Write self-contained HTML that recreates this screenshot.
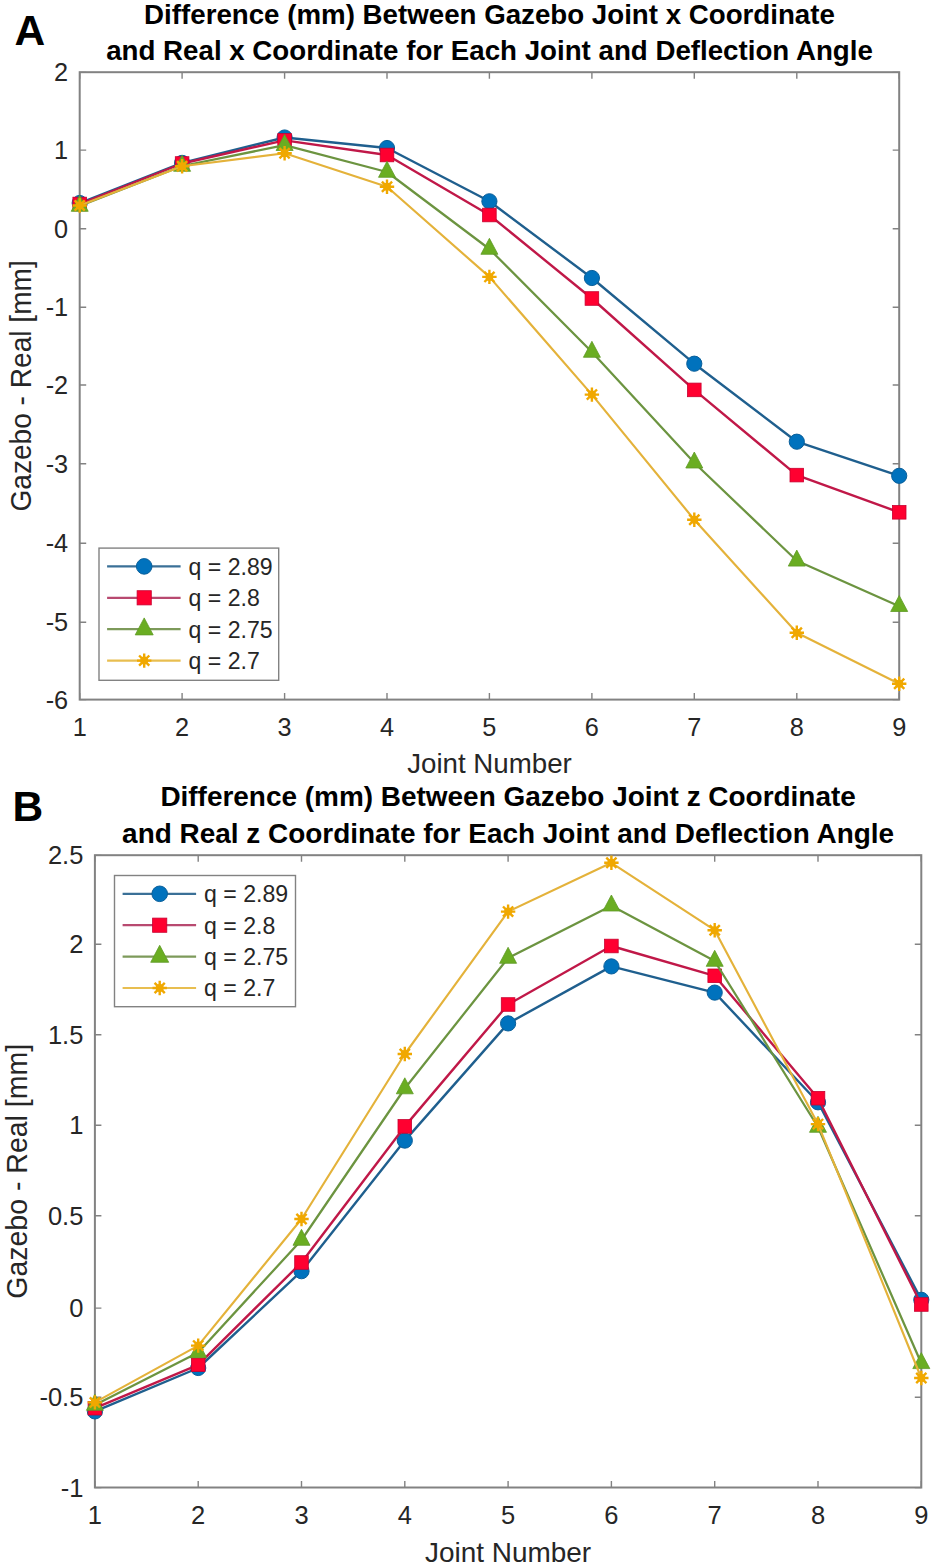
<!DOCTYPE html>
<html><head><meta charset="utf-8"><style>html,body{margin:0;padding:0;background:#fff;width:938px;height:1567px;overflow:hidden}</style></head>
<body>
<svg width="938" height="1567" viewBox="0 0 938 1567" style="display:block;font-family:'Liberation Sans', sans-serif">
<rect width="938" height="1567" fill="#fff"/>
<rect x="79.7" y="72.2" width="819.5" height="627.4" fill="#fff" stroke="#828282" stroke-width="2"/>
<path d="M79.7,699.6v-6.5M79.7,72.2v6.5" stroke="#828282" stroke-width="1.4"/>
<text x="79.7" y="735.8" font-size="25.3" text-anchor="middle" font-weight="normal" fill="#262626" >1</text>
<path d="M182.1,699.6v-6.5M182.1,72.2v6.5" stroke="#828282" stroke-width="1.4"/>
<text x="182.1" y="735.8" font-size="25.3" text-anchor="middle" font-weight="normal" fill="#262626" >2</text>
<path d="M284.6,699.6v-6.5M284.6,72.2v6.5" stroke="#828282" stroke-width="1.4"/>
<text x="284.6" y="735.8" font-size="25.3" text-anchor="middle" font-weight="normal" fill="#262626" >3</text>
<path d="M387.0,699.6v-6.5M387.0,72.2v6.5" stroke="#828282" stroke-width="1.4"/>
<text x="387.0" y="735.8" font-size="25.3" text-anchor="middle" font-weight="normal" fill="#262626" >4</text>
<path d="M489.4,699.6v-6.5M489.4,72.2v6.5" stroke="#828282" stroke-width="1.4"/>
<text x="489.4" y="735.8" font-size="25.3" text-anchor="middle" font-weight="normal" fill="#262626" >5</text>
<path d="M591.9,699.6v-6.5M591.9,72.2v6.5" stroke="#828282" stroke-width="1.4"/>
<text x="591.9" y="735.8" font-size="25.3" text-anchor="middle" font-weight="normal" fill="#262626" >6</text>
<path d="M694.3,699.6v-6.5M694.3,72.2v6.5" stroke="#828282" stroke-width="1.4"/>
<text x="694.3" y="735.8" font-size="25.3" text-anchor="middle" font-weight="normal" fill="#262626" >7</text>
<path d="M796.8,699.6v-6.5M796.8,72.2v6.5" stroke="#828282" stroke-width="1.4"/>
<text x="796.8" y="735.8" font-size="25.3" text-anchor="middle" font-weight="normal" fill="#262626" >8</text>
<path d="M899.2,699.6v-6.5M899.2,72.2v6.5" stroke="#828282" stroke-width="1.4"/>
<text x="899.2" y="735.8" font-size="25.3" text-anchor="middle" font-weight="normal" fill="#262626" >9</text>
<path d="M79.7,72.4h6.5M899.2,72.4h-6.5" stroke="#828282" stroke-width="1.4"/>
<text x="68.2" y="81.3" font-size="25.3" text-anchor="end" font-weight="normal" fill="#262626" >2</text>
<path d="M79.7,150.1h6.5M899.2,150.1h-6.5" stroke="#828282" stroke-width="1.4"/>
<text x="68.2" y="159.0" font-size="25.3" text-anchor="end" font-weight="normal" fill="#262626" >1</text>
<path d="M79.7,228.7h6.5M899.2,228.7h-6.5" stroke="#828282" stroke-width="1.4"/>
<text x="68.2" y="237.6" font-size="25.3" text-anchor="end" font-weight="normal" fill="#262626" >0</text>
<path d="M79.7,307.3h6.5M899.2,307.3h-6.5" stroke="#828282" stroke-width="1.4"/>
<text x="68.2" y="316.2" font-size="25.3" text-anchor="end" font-weight="normal" fill="#262626" >-1</text>
<path d="M79.7,385.0h6.5M899.2,385.0h-6.5" stroke="#828282" stroke-width="1.4"/>
<text x="68.2" y="393.9" font-size="25.3" text-anchor="end" font-weight="normal" fill="#262626" >-2</text>
<path d="M79.7,463.8h6.5M899.2,463.8h-6.5" stroke="#828282" stroke-width="1.4"/>
<text x="68.2" y="472.7" font-size="25.3" text-anchor="end" font-weight="normal" fill="#262626" >-3</text>
<path d="M79.7,543.3h6.5M899.2,543.3h-6.5" stroke="#828282" stroke-width="1.4"/>
<text x="68.2" y="552.2" font-size="25.3" text-anchor="end" font-weight="normal" fill="#262626" >-4</text>
<path d="M79.7,622.2h6.5M899.2,622.2h-6.5" stroke="#828282" stroke-width="1.4"/>
<text x="68.2" y="631.1" font-size="25.3" text-anchor="end" font-weight="normal" fill="#262626" >-5</text>
<path d="M79.7,699.6h6.5M899.2,699.6h-6.5" stroke="#828282" stroke-width="1.4"/>
<text x="68.2" y="708.5" font-size="25.3" text-anchor="end" font-weight="normal" fill="#262626" >-6</text>
<polyline points="79.7,203.0 182.1,162.9 284.6,137.5 387.0,148.0 489.4,201.3 591.9,278.0 694.3,363.7 796.8,441.7 899.2,475.8" fill="none" stroke="#1f5f8e" stroke-width="2.4" stroke-linejoin="round"/>
<circle cx="79.7" cy="203.0" r="7.6" fill="#0072BD" stroke="#0a5f9a" stroke-width="1"/>
<circle cx="182.1" cy="162.9" r="7.6" fill="#0072BD" stroke="#0a5f9a" stroke-width="1"/>
<circle cx="284.6" cy="137.5" r="7.6" fill="#0072BD" stroke="#0a5f9a" stroke-width="1"/>
<circle cx="387.0" cy="148.0" r="7.6" fill="#0072BD" stroke="#0a5f9a" stroke-width="1"/>
<circle cx="489.4" cy="201.3" r="7.6" fill="#0072BD" stroke="#0a5f9a" stroke-width="1"/>
<circle cx="591.9" cy="278.0" r="7.6" fill="#0072BD" stroke="#0a5f9a" stroke-width="1"/>
<circle cx="694.3" cy="363.7" r="7.6" fill="#0072BD" stroke="#0a5f9a" stroke-width="1"/>
<circle cx="796.8" cy="441.7" r="7.6" fill="#0072BD" stroke="#0a5f9a" stroke-width="1"/>
<circle cx="899.2" cy="475.8" r="7.6" fill="#0072BD" stroke="#0a5f9a" stroke-width="1"/>
<polyline points="79.7,204.0 182.1,163.5 284.6,140.4 387.0,155.0 489.4,215.0 591.9,298.5 694.3,389.9 796.8,475.1 899.2,512.3" fill="none" stroke="#c01848" stroke-width="2.4" stroke-linejoin="round"/>
<rect x="72.9" y="197.2" width="13.6" height="13.6" fill="#ff0030" stroke="#c80030" stroke-width="0.8"/>
<rect x="175.3" y="156.7" width="13.6" height="13.6" fill="#ff0030" stroke="#c80030" stroke-width="0.8"/>
<rect x="277.8" y="133.6" width="13.6" height="13.6" fill="#ff0030" stroke="#c80030" stroke-width="0.8"/>
<rect x="380.2" y="148.2" width="13.6" height="13.6" fill="#ff0030" stroke="#c80030" stroke-width="0.8"/>
<rect x="482.6" y="208.2" width="13.6" height="13.6" fill="#ff0030" stroke="#c80030" stroke-width="0.8"/>
<rect x="585.1" y="291.7" width="13.6" height="13.6" fill="#ff0030" stroke="#c80030" stroke-width="0.8"/>
<rect x="687.5" y="383.1" width="13.6" height="13.6" fill="#ff0030" stroke="#c80030" stroke-width="0.8"/>
<rect x="790.0" y="468.3" width="13.6" height="13.6" fill="#ff0030" stroke="#c80030" stroke-width="0.8"/>
<rect x="892.4" y="505.5" width="13.6" height="13.6" fill="#ff0030" stroke="#c80030" stroke-width="0.8"/>
<polyline points="79.7,206.0 182.1,166.0 284.6,145.2 387.0,172.0 489.4,249.0 591.9,352.0 694.3,462.7 796.8,560.8 899.2,606.2" fill="none" stroke="#6c9440" stroke-width="2.25" stroke-linejoin="round"/>
<polygon points="79.7,195.3 88.2,211.3 71.2,211.3" fill="#6aad22" stroke="#5f9a26" stroke-width="0.8"/>
<polygon points="182.1,155.3 190.6,171.3 173.6,171.3" fill="#6aad22" stroke="#5f9a26" stroke-width="0.8"/>
<polygon points="284.6,134.5 293.1,150.5 276.1,150.5" fill="#6aad22" stroke="#5f9a26" stroke-width="0.8"/>
<polygon points="387.0,161.3 395.5,177.3 378.5,177.3" fill="#6aad22" stroke="#5f9a26" stroke-width="0.8"/>
<polygon points="489.4,238.3 497.9,254.3 480.9,254.3" fill="#6aad22" stroke="#5f9a26" stroke-width="0.8"/>
<polygon points="591.9,341.3 600.4,357.3 583.4,357.3" fill="#6aad22" stroke="#5f9a26" stroke-width="0.8"/>
<polygon points="694.3,452.0 702.8,468.0 685.8,468.0" fill="#6aad22" stroke="#5f9a26" stroke-width="0.8"/>
<polygon points="796.8,550.1 805.3,566.1 788.3,566.1" fill="#6aad22" stroke="#5f9a26" stroke-width="0.8"/>
<polygon points="899.2,595.5 907.7,611.5 890.7,611.5" fill="#6aad22" stroke="#5f9a26" stroke-width="0.8"/>
<polyline points="79.7,205.5 182.1,166.3 284.6,153.2 387.0,186.8 489.4,276.9 591.9,394.6 694.3,519.7 796.8,632.8 899.2,683.7" fill="none" stroke="#e4b23a" stroke-width="2.15" stroke-linejoin="round"/>
<path d="M72.5,205.5L86.9,205.5M74.6,200.4L84.8,210.6M79.7,198.3L79.7,212.7M84.8,200.4L74.6,210.6" stroke="#f0a800" stroke-width="2.4" fill="none"/>
<circle cx="79.7" cy="205.5" r="4" fill="#f0a800"/>
<path d="M174.9,166.3L189.3,166.3M177.0,161.2L187.2,171.4M182.1,159.1L182.1,173.5M187.2,161.2L177.0,171.4" stroke="#f0a800" stroke-width="2.4" fill="none"/>
<circle cx="182.1" cy="166.3" r="4" fill="#f0a800"/>
<path d="M277.4,153.2L291.8,153.2M279.5,148.1L289.7,158.3M284.6,146.0L284.6,160.4M289.7,148.1L279.5,158.3" stroke="#f0a800" stroke-width="2.4" fill="none"/>
<circle cx="284.6" cy="153.2" r="4" fill="#f0a800"/>
<path d="M379.8,186.8L394.2,186.8M381.9,181.7L392.1,191.9M387.0,179.6L387.0,194.0M392.1,181.7L381.9,191.9" stroke="#f0a800" stroke-width="2.4" fill="none"/>
<circle cx="387.0" cy="186.8" r="4" fill="#f0a800"/>
<path d="M482.2,276.9L496.6,276.9M484.4,271.8L494.5,282.0M489.4,269.7L489.4,284.1M494.5,271.8L484.4,282.0" stroke="#f0a800" stroke-width="2.4" fill="none"/>
<circle cx="489.4" cy="276.9" r="4" fill="#f0a800"/>
<path d="M584.7,394.6L599.1,394.6M586.8,389.5L597.0,399.7M591.9,387.4L591.9,401.8M597.0,389.5L586.8,399.7" stroke="#f0a800" stroke-width="2.4" fill="none"/>
<circle cx="591.9" cy="394.6" r="4" fill="#f0a800"/>
<path d="M687.1,519.7L701.5,519.7M689.2,514.6L699.4,524.8M694.3,512.5L694.3,526.9M699.4,514.6L689.2,524.8" stroke="#f0a800" stroke-width="2.4" fill="none"/>
<circle cx="694.3" cy="519.7" r="4" fill="#f0a800"/>
<path d="M789.6,632.8L804.0,632.8M791.7,627.7L801.9,637.9M796.8,625.6L796.8,640.0M801.9,627.7L791.7,637.9" stroke="#f0a800" stroke-width="2.4" fill="none"/>
<circle cx="796.8" cy="632.8" r="4" fill="#f0a800"/>
<path d="M892.0,683.7L906.4,683.7M894.1,678.6L904.3,688.8M899.2,676.5L899.2,690.9M904.3,678.6L894.1,688.8" stroke="#f0a800" stroke-width="2.4" fill="none"/>
<circle cx="899.2" cy="683.7" r="4" fill="#f0a800"/>
<text x="489.5" y="23.6" font-size="27.7" text-anchor="middle" font-weight="bold" fill="#000" >Difference (mm) Between Gazebo Joint x Coordinate</text>
<text x="489.5" y="59.9" font-size="27.7" text-anchor="middle" font-weight="bold" fill="#000" >and Real x Coordinate for Each Joint and Deflection Angle</text>
<text x="489.5" y="772.6" font-size="27.7" text-anchor="middle" font-weight="normal" fill="#262626" >Joint Number</text>
<text x="0" y="0" font-size="28.1" text-anchor="middle" fill="#262626" transform="translate(31,385.9) rotate(-90) scale(1,1.045)">Gazebo - Real [mm]</text>
<text x="14.5" y="45.2" font-size="42.5" text-anchor="start" font-weight="bold" fill="#000" >A</text>
<rect x="99.0" y="548.1" width="179.7" height="132.19999999999993" fill="#fff" stroke="#828282" stroke-width="1.4"/>
<path d="M107.1,566.4H180.6" stroke="#3a7097" stroke-width="2.2"/>
<circle cx="144.2" cy="566.4" r="7.8" fill="#0072BD" stroke="#0a5f9a" stroke-width="1"/>
<text x="188.5" y="574.7" font-size="23.1" text-anchor="start" font-weight="normal" fill="#262626" >q = 2.89</text>
<path d="M107.1,597.8H180.6" stroke="#b84a70" stroke-width="2.2"/>
<rect x="137.1" y="590.7" width="14.2" height="14.2" fill="#ff0030" stroke="#c80030" stroke-width="0.8"/>
<text x="188.5" y="606.1" font-size="23.1" text-anchor="start" font-weight="normal" fill="#262626" >q = 2.8</text>
<path d="M107.1,629.2H180.6" stroke="#7d9a5a" stroke-width="2.2"/>
<polygon points="144.2,617.9 153.2,634.9 135.2,634.9" fill="#6aad22" stroke="#5f9a26" stroke-width="0.8"/>
<text x="188.5" y="637.5" font-size="23.1" text-anchor="start" font-weight="normal" fill="#262626" >q = 2.75</text>
<path d="M107.1,660.6H180.6" stroke="#e8be50" stroke-width="2.2"/>
<path d="M137.0,660.6L151.4,660.6M139.1,655.5L149.3,665.7M144.2,653.4L144.2,667.8M149.3,655.5L139.1,665.7" stroke="#f0a800" stroke-width="2.4" fill="none"/>
<circle cx="144.2" cy="660.6" r="4" fill="#f0a800"/>
<text x="188.5" y="668.9" font-size="23.1" text-anchor="start" font-weight="normal" fill="#262626" >q = 2.7</text>
<rect x="94.9" y="855.2" width="826.4" height="632.3" fill="#fff" stroke="#828282" stroke-width="2"/>
<path d="M94.9,1487.5v-6.5M94.9,855.2v6.5" stroke="#828282" stroke-width="1.4"/>
<text x="94.9" y="1523.7" font-size="25.5" text-anchor="middle" font-weight="normal" fill="#262626" >1</text>
<path d="M198.2,1487.5v-6.5M198.2,855.2v6.5" stroke="#828282" stroke-width="1.4"/>
<text x="198.2" y="1523.7" font-size="25.5" text-anchor="middle" font-weight="normal" fill="#262626" >2</text>
<path d="M301.5,1487.5v-6.5M301.5,855.2v6.5" stroke="#828282" stroke-width="1.4"/>
<text x="301.5" y="1523.7" font-size="25.5" text-anchor="middle" font-weight="normal" fill="#262626" >3</text>
<path d="M404.8,1487.5v-6.5M404.8,855.2v6.5" stroke="#828282" stroke-width="1.4"/>
<text x="404.8" y="1523.7" font-size="25.5" text-anchor="middle" font-weight="normal" fill="#262626" >4</text>
<path d="M508.1,1487.5v-6.5M508.1,855.2v6.5" stroke="#828282" stroke-width="1.4"/>
<text x="508.1" y="1523.7" font-size="25.5" text-anchor="middle" font-weight="normal" fill="#262626" >5</text>
<path d="M611.4,1487.5v-6.5M611.4,855.2v6.5" stroke="#828282" stroke-width="1.4"/>
<text x="611.4" y="1523.7" font-size="25.5" text-anchor="middle" font-weight="normal" fill="#262626" >6</text>
<path d="M714.7,1487.5v-6.5M714.7,855.2v6.5" stroke="#828282" stroke-width="1.4"/>
<text x="714.7" y="1523.7" font-size="25.5" text-anchor="middle" font-weight="normal" fill="#262626" >7</text>
<path d="M818.0,1487.5v-6.5M818.0,855.2v6.5" stroke="#828282" stroke-width="1.4"/>
<text x="818.0" y="1523.7" font-size="25.5" text-anchor="middle" font-weight="normal" fill="#262626" >8</text>
<path d="M921.3,1487.5v-6.5M921.3,855.2v6.5" stroke="#828282" stroke-width="1.4"/>
<text x="921.3" y="1523.7" font-size="25.5" text-anchor="middle" font-weight="normal" fill="#262626" >9</text>
<path d="M94.9,855.4h6.5M921.3,855.4h-6.5" stroke="#828282" stroke-width="1.4"/>
<text x="83.4" y="864.2" font-size="25.5" text-anchor="end" font-weight="normal" fill="#262626" >2.5</text>
<path d="M94.9,944.2h6.5M921.3,944.2h-6.5" stroke="#828282" stroke-width="1.4"/>
<text x="83.4" y="953.1" font-size="25.5" text-anchor="end" font-weight="normal" fill="#262626" >2</text>
<path d="M94.9,1034.7h6.5M921.3,1034.7h-6.5" stroke="#828282" stroke-width="1.4"/>
<text x="83.4" y="1043.6" font-size="25.5" text-anchor="end" font-weight="normal" fill="#262626" >1.5</text>
<path d="M94.9,1125.3h6.5M921.3,1125.3h-6.5" stroke="#828282" stroke-width="1.4"/>
<text x="83.4" y="1134.2" font-size="25.5" text-anchor="end" font-weight="normal" fill="#262626" >1</text>
<path d="M94.9,1215.8h6.5M921.3,1215.8h-6.5" stroke="#828282" stroke-width="1.4"/>
<text x="83.4" y="1224.7" font-size="25.5" text-anchor="end" font-weight="normal" fill="#262626" >0.5</text>
<path d="M94.9,1308.1h6.5M921.3,1308.1h-6.5" stroke="#828282" stroke-width="1.4"/>
<text x="83.4" y="1317.0" font-size="25.5" text-anchor="end" font-weight="normal" fill="#262626" >0</text>
<path d="M94.9,1397.2h6.5M921.3,1397.2h-6.5" stroke="#828282" stroke-width="1.4"/>
<text x="83.4" y="1406.1" font-size="25.5" text-anchor="end" font-weight="normal" fill="#262626" >-0.5</text>
<path d="M94.9,1487.6h6.5M921.3,1487.6h-6.5" stroke="#828282" stroke-width="1.4"/>
<text x="83.4" y="1496.5" font-size="25.5" text-anchor="end" font-weight="normal" fill="#262626" >-1</text>
<polyline points="94.9,1411.4 198.2,1368.0 301.5,1271.2 404.8,1140.6 508.1,1023.4 611.4,966.4 714.7,992.6 818.0,1102.3 921.3,1299.8" fill="none" stroke="#1f5f8e" stroke-width="2.4" stroke-linejoin="round"/>
<circle cx="94.9" cy="1411.4" r="7.6" fill="#0072BD" stroke="#0a5f9a" stroke-width="1"/>
<circle cx="198.2" cy="1368.0" r="7.6" fill="#0072BD" stroke="#0a5f9a" stroke-width="1"/>
<circle cx="301.5" cy="1271.2" r="7.6" fill="#0072BD" stroke="#0a5f9a" stroke-width="1"/>
<circle cx="404.8" cy="1140.6" r="7.6" fill="#0072BD" stroke="#0a5f9a" stroke-width="1"/>
<circle cx="508.1" cy="1023.4" r="7.6" fill="#0072BD" stroke="#0a5f9a" stroke-width="1"/>
<circle cx="611.4" cy="966.4" r="7.6" fill="#0072BD" stroke="#0a5f9a" stroke-width="1"/>
<circle cx="714.7" cy="992.6" r="7.6" fill="#0072BD" stroke="#0a5f9a" stroke-width="1"/>
<circle cx="818.0" cy="1102.3" r="7.6" fill="#0072BD" stroke="#0a5f9a" stroke-width="1"/>
<circle cx="921.3" cy="1299.8" r="7.6" fill="#0072BD" stroke="#0a5f9a" stroke-width="1"/>
<polyline points="94.9,1408.2 198.2,1364.8 301.5,1262.5 404.8,1126.4 508.1,1004.5 611.4,946.0 714.7,975.8 818.0,1098.2 921.3,1304.5" fill="none" stroke="#c01848" stroke-width="2.4" stroke-linejoin="round"/>
<rect x="88.1" y="1401.4" width="13.6" height="13.6" fill="#ff0030" stroke="#c80030" stroke-width="0.8"/>
<rect x="191.4" y="1358.0" width="13.6" height="13.6" fill="#ff0030" stroke="#c80030" stroke-width="0.8"/>
<rect x="294.7" y="1255.7" width="13.6" height="13.6" fill="#ff0030" stroke="#c80030" stroke-width="0.8"/>
<rect x="398.0" y="1119.6" width="13.6" height="13.6" fill="#ff0030" stroke="#c80030" stroke-width="0.8"/>
<rect x="501.3" y="997.7" width="13.6" height="13.6" fill="#ff0030" stroke="#c80030" stroke-width="0.8"/>
<rect x="604.6" y="939.2" width="13.6" height="13.6" fill="#ff0030" stroke="#c80030" stroke-width="0.8"/>
<rect x="707.9" y="969.0" width="13.6" height="13.6" fill="#ff0030" stroke="#c80030" stroke-width="0.8"/>
<rect x="811.2" y="1091.4" width="13.6" height="13.6" fill="#ff0030" stroke="#c80030" stroke-width="0.8"/>
<rect x="914.5" y="1297.7" width="13.6" height="13.6" fill="#ff0030" stroke="#c80030" stroke-width="0.8"/>
<polyline points="94.9,1405.0 198.2,1352.4 301.5,1240.0 404.8,1088.5 508.1,958.0 611.4,905.7 714.7,961.0 818.0,1127.0 921.3,1363.3" fill="none" stroke="#6c9440" stroke-width="2.25" stroke-linejoin="round"/>
<polygon points="94.9,1394.3 103.4,1410.3 86.4,1410.3" fill="#6aad22" stroke="#5f9a26" stroke-width="0.8"/>
<polygon points="198.2,1341.7 206.7,1357.7 189.7,1357.7" fill="#6aad22" stroke="#5f9a26" stroke-width="0.8"/>
<polygon points="301.5,1229.3 310.0,1245.3 293.0,1245.3" fill="#6aad22" stroke="#5f9a26" stroke-width="0.8"/>
<polygon points="404.8,1077.8 413.3,1093.8 396.3,1093.8" fill="#6aad22" stroke="#5f9a26" stroke-width="0.8"/>
<polygon points="508.1,947.3 516.6,963.3 499.6,963.3" fill="#6aad22" stroke="#5f9a26" stroke-width="0.8"/>
<polygon points="611.4,895.0 619.9,911.0 602.9,911.0" fill="#6aad22" stroke="#5f9a26" stroke-width="0.8"/>
<polygon points="714.7,950.3 723.2,966.3 706.2,966.3" fill="#6aad22" stroke="#5f9a26" stroke-width="0.8"/>
<polygon points="818.0,1116.3 826.5,1132.3 809.5,1132.3" fill="#6aad22" stroke="#5f9a26" stroke-width="0.8"/>
<polygon points="921.3,1352.6 929.8,1368.6 912.8,1368.6" fill="#6aad22" stroke="#5f9a26" stroke-width="0.8"/>
<polyline points="94.9,1402.4 198.2,1345.6 301.5,1219.0 404.8,1054.0 508.1,911.6 611.4,862.8 714.7,930.2 818.0,1124.1 921.3,1378.0" fill="none" stroke="#e4b23a" stroke-width="2.15" stroke-linejoin="round"/>
<path d="M87.7,1402.4L102.1,1402.4M89.8,1397.3L100.0,1407.5M94.9,1395.2L94.9,1409.6M100.0,1397.3L89.8,1407.5" stroke="#f0a800" stroke-width="2.4" fill="none"/>
<circle cx="94.9" cy="1402.4" r="4" fill="#f0a800"/>
<path d="M191.0,1345.6L205.4,1345.6M193.1,1340.5L203.3,1350.7M198.2,1338.4L198.2,1352.8M203.3,1340.5L193.1,1350.7" stroke="#f0a800" stroke-width="2.4" fill="none"/>
<circle cx="198.2" cy="1345.6" r="4" fill="#f0a800"/>
<path d="M294.3,1219.0L308.7,1219.0M296.4,1213.9L306.6,1224.1M301.5,1211.8L301.5,1226.2M306.6,1213.9L296.4,1224.1" stroke="#f0a800" stroke-width="2.4" fill="none"/>
<circle cx="301.5" cy="1219.0" r="4" fill="#f0a800"/>
<path d="M397.6,1054.0L412.0,1054.0M399.7,1048.9L409.9,1059.1M404.8,1046.8L404.8,1061.2M409.9,1048.9L399.7,1059.1" stroke="#f0a800" stroke-width="2.4" fill="none"/>
<circle cx="404.8" cy="1054.0" r="4" fill="#f0a800"/>
<path d="M500.9,911.6L515.3,911.6M503.0,906.5L513.2,916.7M508.1,904.4L508.1,918.8M513.2,906.5L503.0,916.7" stroke="#f0a800" stroke-width="2.4" fill="none"/>
<circle cx="508.1" cy="911.6" r="4" fill="#f0a800"/>
<path d="M604.2,862.8L618.6,862.8M606.3,857.7L616.5,867.9M611.4,855.6L611.4,870.0M616.5,857.7L606.3,867.9" stroke="#f0a800" stroke-width="2.4" fill="none"/>
<circle cx="611.4" cy="862.8" r="4" fill="#f0a800"/>
<path d="M707.5,930.2L721.9,930.2M709.6,925.1L719.8,935.3M714.7,923.0L714.7,937.4M719.8,925.1L709.6,935.3" stroke="#f0a800" stroke-width="2.4" fill="none"/>
<circle cx="714.7" cy="930.2" r="4" fill="#f0a800"/>
<path d="M810.8,1124.1L825.2,1124.1M812.9,1119.0L823.1,1129.2M818.0,1116.9L818.0,1131.3M823.1,1119.0L812.9,1129.2" stroke="#f0a800" stroke-width="2.4" fill="none"/>
<circle cx="818.0" cy="1124.1" r="4" fill="#f0a800"/>
<path d="M914.1,1378.0L928.5,1378.0M916.2,1372.9L926.4,1383.1M921.3,1370.8L921.3,1385.2M926.4,1372.9L916.2,1383.1" stroke="#f0a800" stroke-width="2.4" fill="none"/>
<circle cx="921.3" cy="1378.0" r="4" fill="#f0a800"/>
<text x="508.1" y="806.4" font-size="27.95" text-anchor="middle" font-weight="bold" fill="#000" >Difference (mm) Between Gazebo Joint z Coordinate</text>
<text x="508.1" y="842.7" font-size="27.95" text-anchor="middle" font-weight="bold" fill="#000" >and Real z Coordinate for Each Joint and Deflection Angle</text>
<text x="508.1" y="1561.5" font-size="27.95" text-anchor="middle" font-weight="normal" fill="#262626" >Joint Number</text>
<text x="0" y="0" font-size="28.5" text-anchor="middle" fill="#262626" transform="translate(26.5,1171.3) rotate(-90) scale(1,1.045)">Gazebo - Real [mm]</text>
<text x="12.5" y="821.0" font-size="42.5" text-anchor="start" font-weight="bold" fill="#000" >B</text>
<rect x="114.5" y="875.5" width="181.0" height="131.20000000000005" fill="#fff" stroke="#828282" stroke-width="1.4"/>
<path d="M122.6,893.8H196.1" stroke="#3a7097" stroke-width="2.2"/>
<circle cx="159.7" cy="893.8" r="7.8" fill="#0072BD" stroke="#0a5f9a" stroke-width="1"/>
<text x="204.0" y="902.1" font-size="23.1" text-anchor="start" font-weight="normal" fill="#262626" >q = 2.89</text>
<path d="M122.6,925.2H196.1" stroke="#b84a70" stroke-width="2.2"/>
<rect x="152.6" y="918.1" width="14.2" height="14.2" fill="#ff0030" stroke="#c80030" stroke-width="0.8"/>
<text x="204.0" y="933.5" font-size="23.1" text-anchor="start" font-weight="normal" fill="#262626" >q = 2.8</text>
<path d="M122.6,956.6H196.1" stroke="#7d9a5a" stroke-width="2.2"/>
<polygon points="159.7,945.3 168.7,962.3 150.7,962.3" fill="#6aad22" stroke="#5f9a26" stroke-width="0.8"/>
<text x="204.0" y="964.9" font-size="23.1" text-anchor="start" font-weight="normal" fill="#262626" >q = 2.75</text>
<path d="M122.6,988.0H196.1" stroke="#e8be50" stroke-width="2.2"/>
<path d="M152.5,988.0L166.9,988.0M154.6,982.9L164.8,993.1M159.7,980.8L159.7,995.2M164.8,982.9L154.6,993.1" stroke="#f0a800" stroke-width="2.4" fill="none"/>
<circle cx="159.7" cy="988.0" r="4" fill="#f0a800"/>
<text x="204.0" y="996.3" font-size="23.1" text-anchor="start" font-weight="normal" fill="#262626" >q = 2.7</text>
</svg>
</body></html>
